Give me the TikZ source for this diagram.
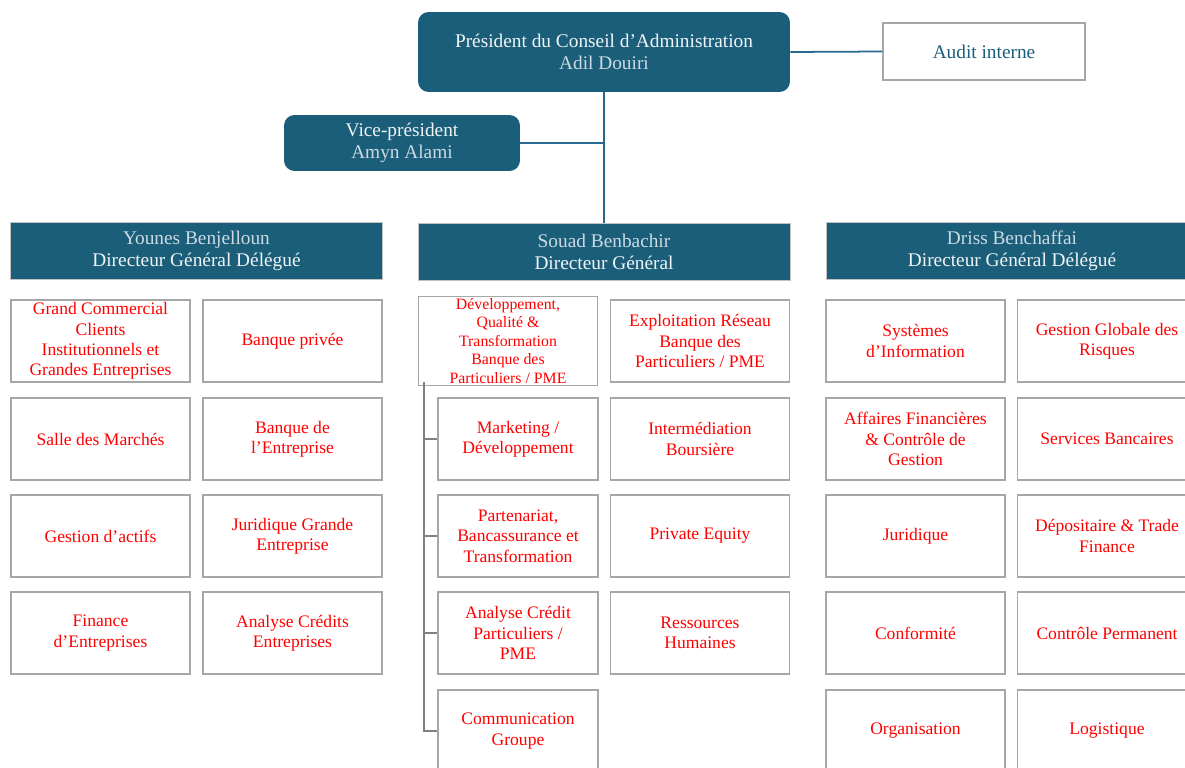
\documentclass[tikz,border=0pt]{standalone}
\usepackage{fontspec}
\setmainfont{Liberation Serif}
\definecolor{boardblue}{RGB}{27,94,122}
\definecolor{linkblue}{RGB}{40,105,145}
\definecolor{boxgray}{RGB}{166,166,166}
\definecolor{headtext}{RGB}{240,244,246}
\definecolor{nametext}{RGB}{204,218,226}
\begin{document}
\begin{tikzpicture}[x=0.02cm, y=-0.02cm,
    every node/.style={align=center, inner sep=1pt, font=\fontsize{10}{11.6}\selectfont},
    chief/.style={fill=boardblue, text=headtext, rounded corners=6pt, font=\fontsize{11}{12.5}\selectfont},
    head/.style={fill=boardblue, draw=boxgray!70, text=headtext, minimum width=7.44cm, minimum height=1.14cm, font=\fontsize{11}{12.5}\selectfont},
    unit/.style={draw=boxgray, line width=0.8pt, text=red, minimum width=3.58cm, minimum height=1.64cm},
    subunit/.style={unit, minimum width=3.2cm},
    link/.style={draw=linkblue, line width=1pt},
    tree/.style={draw=gray, line width=1pt}]
    \clip (0,0) rectangle (1185,767);
    \fill[white] (0,0) rectangle (1185,767);

    \node[chief, minimum width=7.44cm, minimum height=1.6cm] (pres) at (604,52) {Président du Conseil d'Administration\\\textcolor{nametext}{Adil Douiri}};
    \node[draw=boxgray, line width=0.8pt, text=boardblue, minimum width=4.04cm, minimum height=1.14cm, font=\fontsize{11}{12.5}\selectfont] (audit) at (984,51.5) {Audit interne};
    \node[chief, minimum width=4.72cm, minimum height=1.12cm] (vice) at (402,143) {Vice-président\\\textcolor{nametext}{Amyn Alami}};

    \node[head] (younes) at (196.5,251) {\textcolor{nametext}{Younes Benjelloun}\\Directeur Général Délégué};
    \node[head] (souad) at (604,251.5) {\textcolor{nametext}{Souad Benbachir}\\Directeur Général};
    \node[head] (driss) at (1012,251) {\textcolor{nametext}{Driss Benchaffai}\\Directeur Général Délégué};

    \draw[link] (pres.east) -- (audit.west);
    \draw[link] (pres.south) -- (souad.north);
    \draw[link] (vice.east) -- (pres.south |- vice.east);

    \node[unit] (gcc) at (100.5,341) {Grand Commercial\\Clients\\Institutionnels et\\Grandes Entreprises};
    \node[unit] (bpriv) at (292.5,341) {Banque privée};
    \node[unit] (salle) at (100.5,439) {Salle des Marchés};
    \node[unit] (bent) at (292.5,439) {Banque de\\l'Entreprise};
    \node[unit] (gact) at (100.5,536) {Gestion d'actifs};
    \node[unit] (jge) at (292.5,536) {Juridique Grande\\Entreprise};
    \node[unit] (fent) at (100.5,633) {Finance\\d'Entreprises};
    \node[unit] (ace) at (292.5,633) {Analyse Crédits\\Entreprises};

    \node[unit, font=\fontsize{9}{10.5}\selectfont] (dev) at (508,341) {Développement,\\Qualité \& \\Transformation\\Banque des\\Particuliers / PME};
    \node[unit] (expl) at (700,341) {Exploitation Réseau\\Banque des\\Particuliers / PME};
    \node[subunit] (mkt) at (518,439) {Marketing /\\Développement};
    \node[unit] (inter) at (700,439) {Intermédiation\\Boursière};
    \node[subunit] (part) at (518,536) {Partenariat,\\Bancassurance et\\Transformation};
    \node[unit] (peq) at (700,536) {Private Equity};
    \node[subunit] (acp) at (518,633) {Analyse Crédit\\Particuliers /\\PME};
    \node[unit] (rh) at (700,633) {Ressources\\Humaines};
    \node[subunit] (com) at (518,731) {Communication\\Groupe};

    \coordinate (trunk) at (424,382);
    \draw[tree] (trunk) |- (com.west);
    \foreach \n in {mkt,part,acp}
        \draw[tree] (trunk |- \n.west) -- (\n.west);

    \node[unit] (si) at (915.5,341) {Systèmes\\d'Information};
    \node[unit] (ggr) at (1107,341) {Gestion Globale des\\Risques};
    \node[unit] (aff) at (915.5,439) {Affaires Financières\\\& Contrôle de\\Gestion};
    \node[unit] (sbanc) at (1107,439) {Services Bancaires};
    \node[unit] (jur) at (915.5,536) {Juridique};
    \node[unit] (dep) at (1107,536) {Dépositaire \& Trade\\Finance};
    \node[unit] (conf) at (915.5,633) {Conformité};
    \node[unit] (cperm) at (1107,633) {Contrôle Permanent};
    \node[unit] (orga) at (915.5,731) {Organisation};
    \node[unit] (logi) at (1107,731) {Logistique};
\end{tikzpicture}
\end{document}
